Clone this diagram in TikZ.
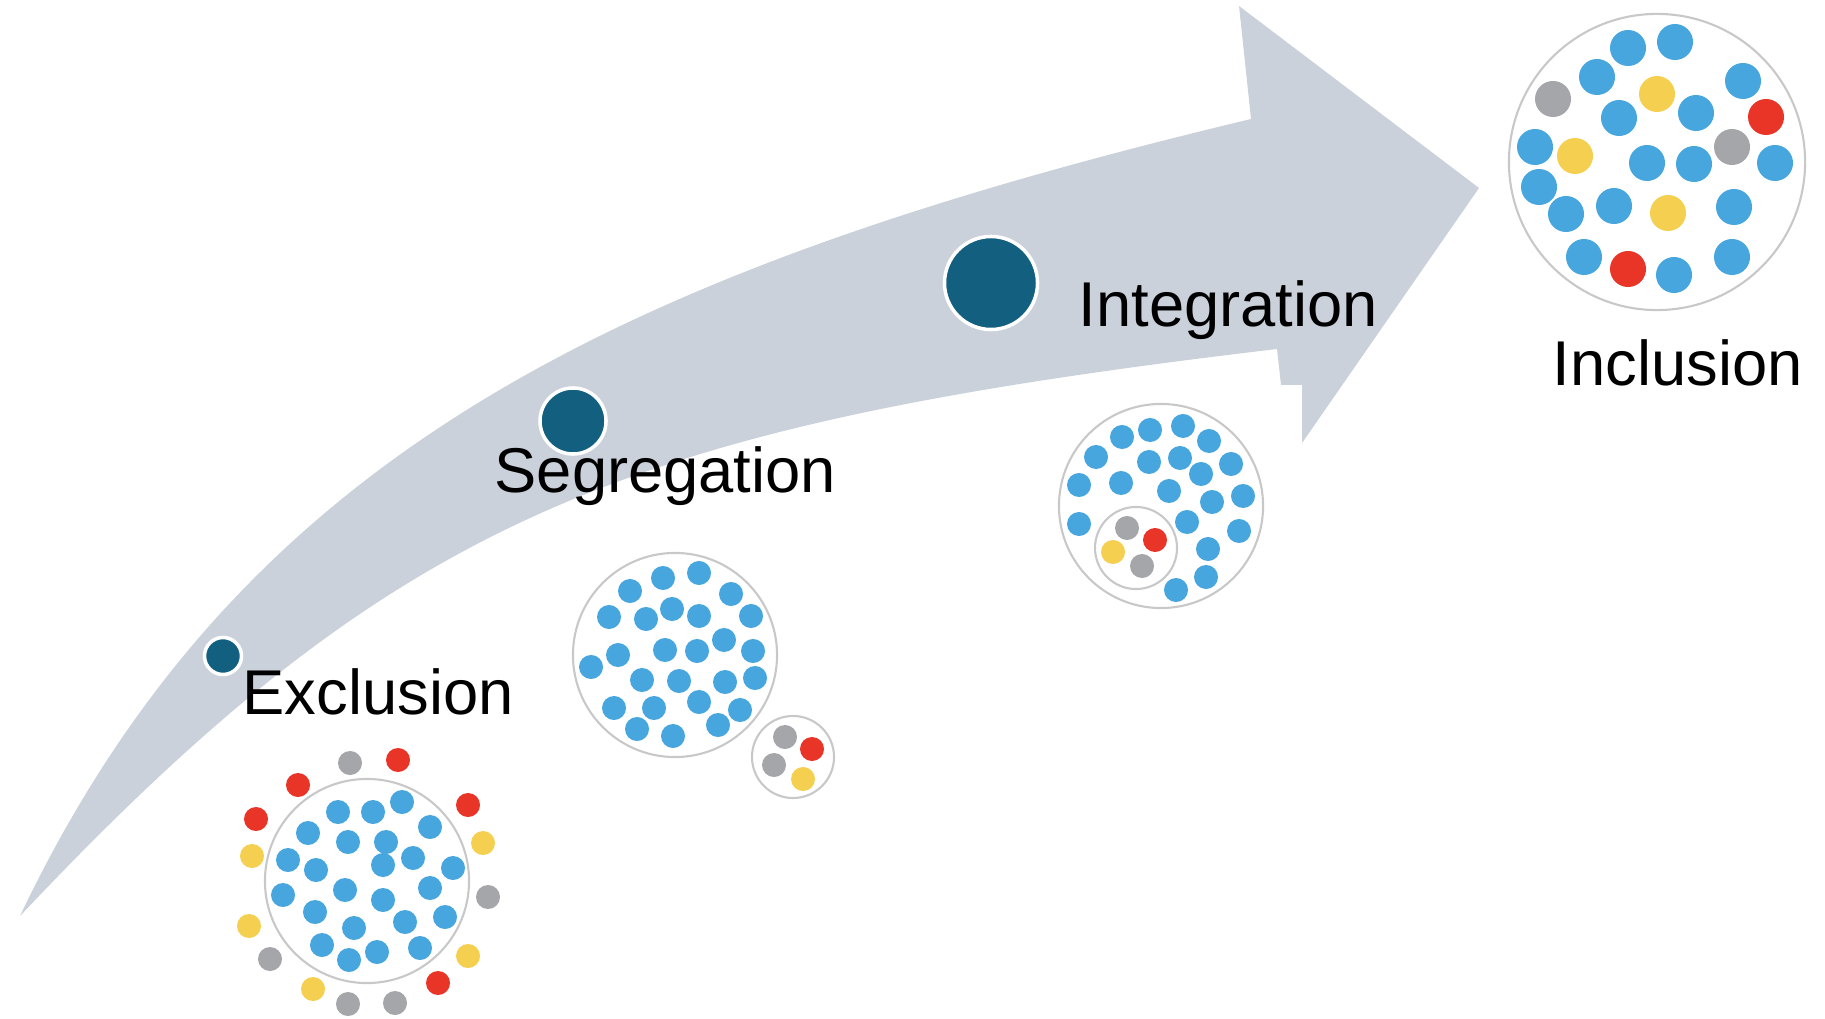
\documentclass[tikz,border=0pt]{standalone}
\usepackage{fontspec}
\setmainfont{Liberation Sans}
\usepackage{xcolor}
\definecolor{arrowgray}{RGB}{203,209,218}
\definecolor{markblue}{RGB}{19,95,128}
\definecolor{dotblue}{RGB}{70,166,221}
\definecolor{dotred}{RGB}{232,53,40}
\definecolor{dotyellow}{RGB}{245,208,80}
\definecolor{dotgray}{RGB}{165,166,170}
\definecolor{ringgray}{RGB}{200,200,200}

\begin{document}
\begin{tikzpicture}[x=0.01cm,y=-0.01cm]
  \tikzset{dot/.style = {shape=circle,fill=#1,minimum size=0.24cm,inner sep=0pt}}
  \tikzset{bigdot/.style = {shape=circle,fill=#1,minimum size=0.36cm,inner sep=0pt}}
  \tikzset{ring/.style = {shape=circle,draw=ringgray,line width=0.6pt,minimum size=#1,inner sep=0pt}}
  \tikzset{marker/.style = {shape=circle,fill=markblue,draw=white,line width=1pt,minimum size=#1,inner sep=0pt}}
  \tikzset{stage/.style = {anchor=base west,inner sep=0pt,font=\fontsize{18}{21}\selectfont}}

  \useasboundingbox (0,0) rectangle (1825,1019);

  % the big curved arrow
  \fill[arrowgray] (20,916) .. controls (240,454) and (620,270) .. (1251,119)
    -- (1239,6) -- (1479,188) -- (1302,443) -- (1302,385) -- (1281,385) -- (1277,349)
    .. controls (627,426) and (400,513) .. (20,916) -- cycle;

  % stage markers and labels
  \node[marker=0.37cm] (exm) at (223,656) {};
  \node[marker=0.66cm] (sgm) at (573,421) {};
  \node[marker=0.93cm] (inm) at (991,283) {};

  \node[stage] (ex) at (242,714) {Exclusion};
  \node[stage] (sg) at (494,493) {Segregation};
  \node[stage] (in) at (1078,327) {Integration};
  \node[stage] (ic) at (1552,386) {Inclusion};

  % exclusion
  \node[ring=2.04cm] (exr) at (367,881) {};
  \foreach \x/\y [count=\i] in {338/812, 373/812, 402/802, 430/827, 308/833, 348/842, 386/842, 413/858,
      453/868, 288/860, 316/870, 383/865, 345/890, 430/888, 283/895, 383/900, 315/912, 405/922,
      445/917, 354/928, 322/945, 377/952, 420/948, 349/960}
    \node[dot=dotblue] (exb\i) at (\x,\y) {};
  \foreach \x/\y [count=\i] in {398/760, 298/785, 256/819, 468/805, 438/983}
    \node[dot=dotred] (exr\i) at (\x,\y) {};
  \foreach \x/\y [count=\i] in {483/843, 252/856, 249/926, 468/956, 313/989}
    \node[dot=dotyellow] (exy\i) at (\x,\y) {};
  \foreach \x/\y [count=\i] in {350/763, 488/897, 270/959, 348/1004, 395/1003}
    \node[dot=dotgray] (exg\i) at (\x,\y) {};

  % segregation
  \node[ring=2.04cm] (sgr) at (675,655) {};
  \node[ring=0.82cm] (sgs) at (793,757) {};
  \foreach \x/\y [count=\i] in {630/591, 663/578, 699/573, 731/594, 609/617, 646/619, 672/609,
      699/616, 751/616, 618/655, 665/650, 697/651, 724/640, 753/651, 591/667, 642/680, 679/681,
      725/682, 755/678, 614/708, 654/708, 699/702, 740/710, 637/729, 673/736, 718/725}
    \node[dot=dotblue] (sgb\i) at (\x,\y) {};
  \node[dot=dotgray] (sgg1) at (785,737) {};
  \node[dot=dotred] (sgr1) at (812,749) {};
  \node[dot=dotgray] (sgg2) at (774,765) {};
  \node[dot=dotyellow] (sgy1) at (803,779) {};

  % integration
  \node[ring=2.04cm] (inr) at (1161,506) {};
  \node[ring=0.82cm] (ins) at (1136,548) {};
  \foreach \x/\y [count=\i] in {1122/437, 1150/430, 1183/426, 1209/441, 1096/457, 1149/462,
      1180/458, 1201/474, 1231/464, 1079/485, 1121/483, 1169/491, 1212/502, 1243/496,
      1079/524, 1187/522, 1239/531, 1208/549, 1206/577, 1176/590}
    \node[dot=dotblue] (inb\i) at (\x,\y) {};
  \node[dot=dotgray] (ing1) at (1127,528) {};
  \node[dot=dotred] (inr1) at (1155,540) {};
  \node[dot=dotyellow] (iny1) at (1113,552) {};
  \node[dot=dotgray] (ing2) at (1142,566) {};

  % inclusion
  \node[ring=2.96cm] (icr) at (1657,162) {};
  \foreach \x/\y [count=\i] in {1628/48, 1675/42, 1597/77, 1743/81, 1619/118, 1696/113,
      1535/147, 1647/163, 1694/164, 1775/163, 1539/187, 1566/214, 1614/206, 1734/207,
      1584/257, 1674/275, 1732/257}
    \node[bigdot=dotblue] (icb\i) at (\x,\y) {};
  \foreach \x/\y [count=\i] in {1553/99, 1732/147}
    \node[bigdot=dotgray] (icg\i) at (\x,\y) {};
  \foreach \x/\y [count=\i] in {1657/94, 1575/156, 1668/213}
    \node[bigdot=dotyellow] (icy\i) at (\x,\y) {};
  \foreach \x/\y [count=\i] in {1766/117, 1628/269}
    \node[bigdot=dotred] (icr\i) at (\x,\y) {};

\end{tikzpicture}
\end{document}
